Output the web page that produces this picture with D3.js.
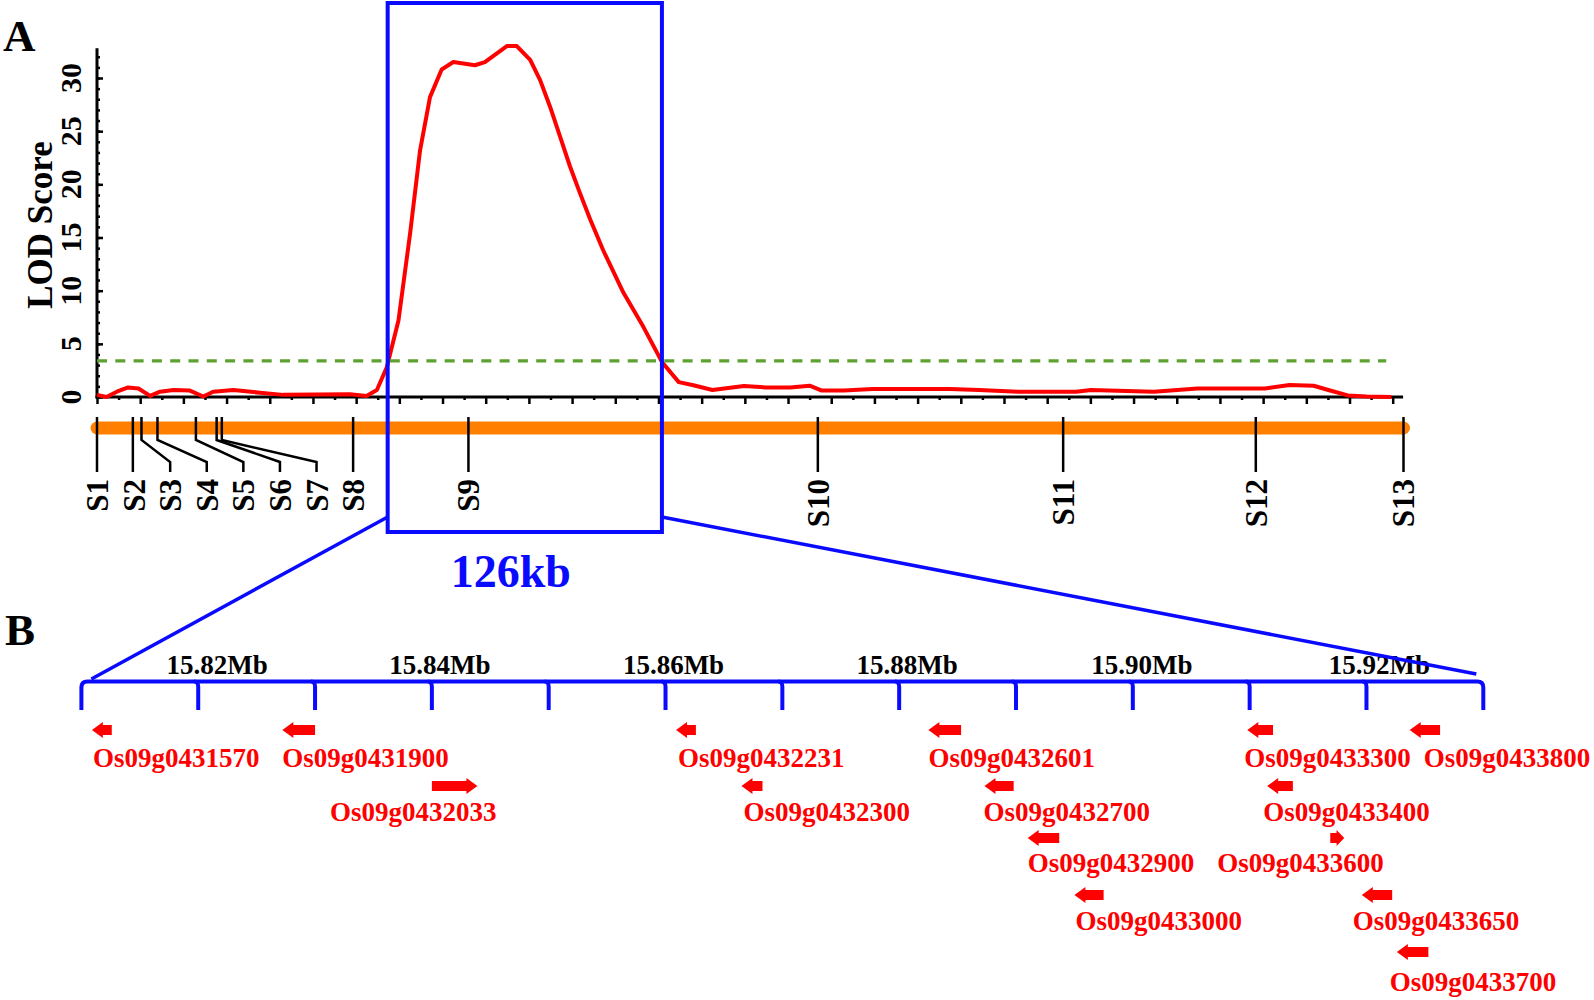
<!DOCTYPE html>
<html><head><meta charset="utf-8">
<script src="https://cdn.jsdelivr.net/npm/d3@7"></script>
<style>
body{margin:0;background:#fff}
text{font-family:"Liberation Serif","Times New Roman",serif;}
</style>
</head><body>
<svg id="c" width="1594" height="1000"></svg>
<script>
// ---------------- DATA ----------------
// LOD profile (position along chromosome in axis units, LOD score)
const lodPos = [0.00,0.22,0.46,0.72,0.96,1.23,1.46,1.77,2.15,2.46,2.69,3.16,3.77,4.31,5.86,6.24,6.48,6.71,6.98,7.25,7.48,7.71,7.98,8.25,8.75,8.98,9.49,9.72,10.03,10.26,10.49,10.72,10.95,11.18,11.42,11.72,12.19,12.65,13.08,13.47,13.81,14.25,14.98,15.49,16.05,16.50,16.78,17.29,17.96,19.75,20.42,21.33,22.67,23.01,24.47,25.48,27.04,27.61,28.17,28.51,28.96,29.40,29.97];
const lodVal = [0.2,0.0,0.5,0.9,0.8,0.1,0.5,0.66,0.6,0.05,0.5,0.66,0.4,0.2,0.25,0.1,0.66,2.8,7.2,15.4,23.2,28.2,30.8,31.5,31.2,31.5,33.0,33.0,31.7,29.8,27.3,24.5,21.7,19.2,16.7,13.8,9.8,6.6,3.3,1.4,1.1,0.66,1.03,0.9,0.9,1.06,0.6,0.6,0.75,0.75,0.66,0.5,0.5,0.66,0.5,0.8,0.8,1.13,1.06,0.66,0.15,0.05,0.0];
const threshold = 3.4;
const yTicks = [0,5,10,15,20,25,30];
const markerNames = ["S1","S2","S3","S4","S5","S6","S7","S8","S9","S10","S11","S12","S13"];
const markerPos = [0,0.83,1.03,1.40,2.29,2.77,2.89,5.93,8.60,16.69,22.37,26.83,30.25];
const qtlInterval = [6.73,13.08];
const qtlLabel = "126kb";
// physical map (Mb)
const mbTicks = [15.81,15.82,15.83,15.84,15.85,15.86,15.87,15.88,15.89,15.90,15.91,15.92,15.93];
const mbLabels = [15.82,15.84,15.86,15.88,15.90,15.92];
const geneNames  = ["Os09g0431570","Os09g0431900","Os09g0432033","Os09g0432231","Os09g0432300","Os09g0432601","Os09g0432700","Os09g0432900","Os09g0433000","Os09g0433300","Os09g0433400","Os09g0433600","Os09g0433650","Os09g0433700","Os09g0433800"];
const geneStart  = [15.8109,15.8272,15.8400,15.8609,15.8665,15.8825,15.8873,15.8910,15.8950,15.9098,15.9115,15.9169,15.9196,15.9226,15.9237];
const geneEnd    = [15.8126,15.8300,15.8439,15.8626,15.8683,15.8853,15.8898,15.8937,15.8975,15.9120,15.9137,15.9181,15.9222,15.9253,15.9263];
const geneStrand = ["-","-","+","-","-","-","-","-","-","-","-","+","-","-","-"];
const geneLane   = [1,1,2,1,2,1,2,3,4,1,2,3,4,5,1];

// ---------------- LAYOUT ----------------
const BLUE = "#0a0aff", RED = "#ff0000", ORANGE = "#ff8000", GREEN = "#5da130";
const labelDx = [1,0,-102,2,2,0,-1,0,1,-3,-4,-113,-9,-7,14];
const mbLabelDx = [19,8,8,8,9,13];
const laneArrowY = {1:730,2:786,3:838,4:895,5:952};
const laneLabelY = {1:767,2:821,3:872,4:930,5:991};

const svg = d3.select("#c");
const x = d3.scaleLinear().domain([0,30]).range([97,1392.7]);
const y = d3.scaleLinear().domain([0,30]).range([397,78]);
const xEnd = 30.24, yTop = 32.8;

// panel letters
svg.append("text").attr("x",3).attr("y",51).attr("font-size",45).attr("font-weight","bold").text("A");
svg.append("text").attr("x",5).attr("y",645).attr("font-size",45).attr("font-weight","bold").text("B");

// y axis
const gY = svg.append("g").attr("transform",`translate(${x(0)},0)`);
gY.call(d3.axisLeft(y).tickValues(d3.range(0,33)).tickSize(-3).tickFormat("").tickSizeOuter(0));
gY.append("g").call(d3.axisLeft(y).tickValues(yTicks).tickSize(-6).tickFormat("").tickSizeOuter(0));
gY.selectAll(".domain").remove();
gY.selectAll("line").attr("stroke","#000").attr("stroke-width",2.5);
gY.append("line").attr("x1",0).attr("x2",0).attr("y1",y(0)+1.5).attr("y2",y(yTop)).attr("stroke","#000").attr("stroke-width",3);

svg.append("g").selectAll("text").data(yTicks).join("text")
  .attr("transform",d=>`translate(81,${y(d)}) rotate(-90)`)
  .attr("text-anchor","middle").attr("font-size",30).attr("font-weight","bold").text(d=>d);
svg.append("text").attr("transform",`translate(52,225) rotate(-90)`)
  .attr("text-anchor","middle").attr("font-size",35).attr("font-weight","bold").text("LOD Score");

// x axis
const gX = svg.append("g").attr("transform",`translate(0,${y(0)})`);
gX.call(d3.axisBottom(x).tickValues(d3.range(0.5,30,1)).tickSize(3).tickFormat("").tickSizeOuter(0));
gX.append("g").call(d3.axisBottom(x).tickValues(d3.range(0,31)).tickSize(7).tickFormat("").tickSizeOuter(0));
gX.selectAll(".domain").remove();
gX.selectAll("line").attr("stroke","#000").attr("stroke-width",2.5);
gX.append("line").attr("x1",x(0)-1.5).attr("x2",x(xEnd)).attr("y1",0).attr("y2",0).attr("stroke","#000").attr("stroke-width",3);

// LOD curve
svg.append("path").datum(d3.zip(lodPos,lodVal))
  .attr("d",d3.line().x(d=>x(d[0])).y(d=>y(d[1])))
  .attr("fill","none").attr("stroke",RED).attr("stroke-width",4).attr("stroke-linejoin","round");

// threshold
svg.append("line").attr("x1",x(0)).attr("x2",x(29.85)).attr("y1",y(threshold)).attr("y2",y(threshold))
  .attr("stroke",GREEN).attr("stroke-width",3.2).attr("stroke-dasharray","10,8.3");

// chromosome bar
const barY = 428;
svg.append("line").attr("x1",x(markerPos[0])).attr("x2",x(markerPos[12])).attr("y1",barY).attr("y2",barY)
  .attr("stroke",ORANGE).attr("stroke-width",13).attr("stroke-linecap","round");

// markers
const lx0 = x(markerPos[0]), lx7 = x(markerPos[7]);
const labelX = markerPos.map((p,i)=> i<=7 ? lx0 + i*(lx7-lx0)/7 : x(p));
const gM = svg.append("g");
gM.selectAll("path").data(markerNames).join("path")
  .attr("d",(d,i)=>{
    const mx = x(markerPos[i]), tx = labelX[i];
    if (Math.abs(mx-tx) < 2) return `M${mx},417V472`;
    return `M${mx},417V440L${tx},462V472`;
  })
  .attr("fill","none").attr("stroke","#000").attr("stroke-width",2.5);
gM.selectAll("text").data(markerNames).join("text")
  .attr("transform",(d,i)=>`translate(${labelX[i]+11},479) rotate(-90)`)
  .attr("text-anchor","end").attr("font-size",31).attr("font-weight","bold").text(d=>d);

// QTL box
const bx0 = x(qtlInterval[0]), bx1 = x(qtlInterval[1]);
svg.append("rect").attr("x",bx0).attr("y",3).attr("width",bx1-bx0).attr("height",529)
  .attr("fill","none").attr("stroke",BLUE).attr("stroke-width",4);
svg.append("text").attr("x",(bx0+bx1)/2-14).attr("y",587).attr("text-anchor","middle")
  .attr("font-size",46).attr("font-weight","bold").attr("fill",BLUE).text(qtlLabel);

// physical scale bar
const mb = d3.scaleLinear().domain([15.81,15.93]).range([81.4,1483.3]);
const sbY = 681.5, tkB = 710;
const gS = svg.append("g");
const m0 = mb(mbTicks[0]), m1 = mb(mbTicks[mbTicks.length-1]);
gS.append("path").attr("d",`M${m0},${tkB}V${sbY+6}Q${m0},${sbY} ${m0+6},${sbY}H${m1-6}Q${m1},${sbY} ${m1},${sbY+6}V${tkB}`)
  .attr("fill","none").attr("stroke",BLUE).attr("stroke-width",4);
gS.selectAll("path.tk").data(mbTicks.slice(1,-1)).join("path").attr("class","tk")
  .attr("d",d=>`M${mb(d)-4},${sbY}Q${mb(d)},${sbY} ${mb(d)},${sbY+5}V${tkB}`)
  .attr("fill","none").attr("stroke",BLUE).attr("stroke-width",4);
gS.selectAll("text").data(mbLabels).join("text")
  .attr("x",(d,i)=>mb(d)+mbLabelDx[i]).attr("y",674).attr("text-anchor","middle")
  .attr("font-size",27).attr("font-weight","bold").attr("fill","#000").text(d=>d.toFixed(2)+"Mb");

// connectors
svg.append("line").attr("x1",bx0).attr("y1",517).attr("x2",m0+10).attr("y2",679).attr("stroke",BLUE).attr("stroke-width",3.5);
svg.append("line").attr("x1",bx1).attr("y1",517).attr("x2",m1-7).attr("y2",674).attr("stroke",BLUE).attr("stroke-width",3.5);

// genes
function arrowPath(i){
  const xs = mb(geneStart[i]), xe = mb(geneEnd[i]), cy = laneArrowY[geneLane[i]];
  const len = xe-xs;
  const hl = Math.min(11, len*0.55), bh = 5, hh = 8;
  if (geneStrand[i] === "-") {
    return `M${xs},${cy}L${xs+hl},${cy-hh}V${cy-bh}H${xe}V${cy+bh}H${xs+hl}V${cy+hh}Z`;
  }
  return `M${xe},${cy}L${xe-hl},${cy-hh}V${cy-bh}H${xs}V${cy+bh}H${xe-hl}V${cy+hh}Z`;
}
const gG = svg.append("g");
gG.selectAll("path").data(geneNames).join("path").attr("d",(d,i)=>arrowPath(i)).attr("fill",RED);
gG.selectAll("text").data(geneNames).join("text")
  .attr("x",(d,i)=>mb(geneStart[i])+labelDx[i]).attr("y",(d,i)=>laneLabelY[geneLane[i]])
  .attr("font-size",27).attr("font-weight","bold").attr("fill",RED).text(d=>d);
</script>
</body></html>
